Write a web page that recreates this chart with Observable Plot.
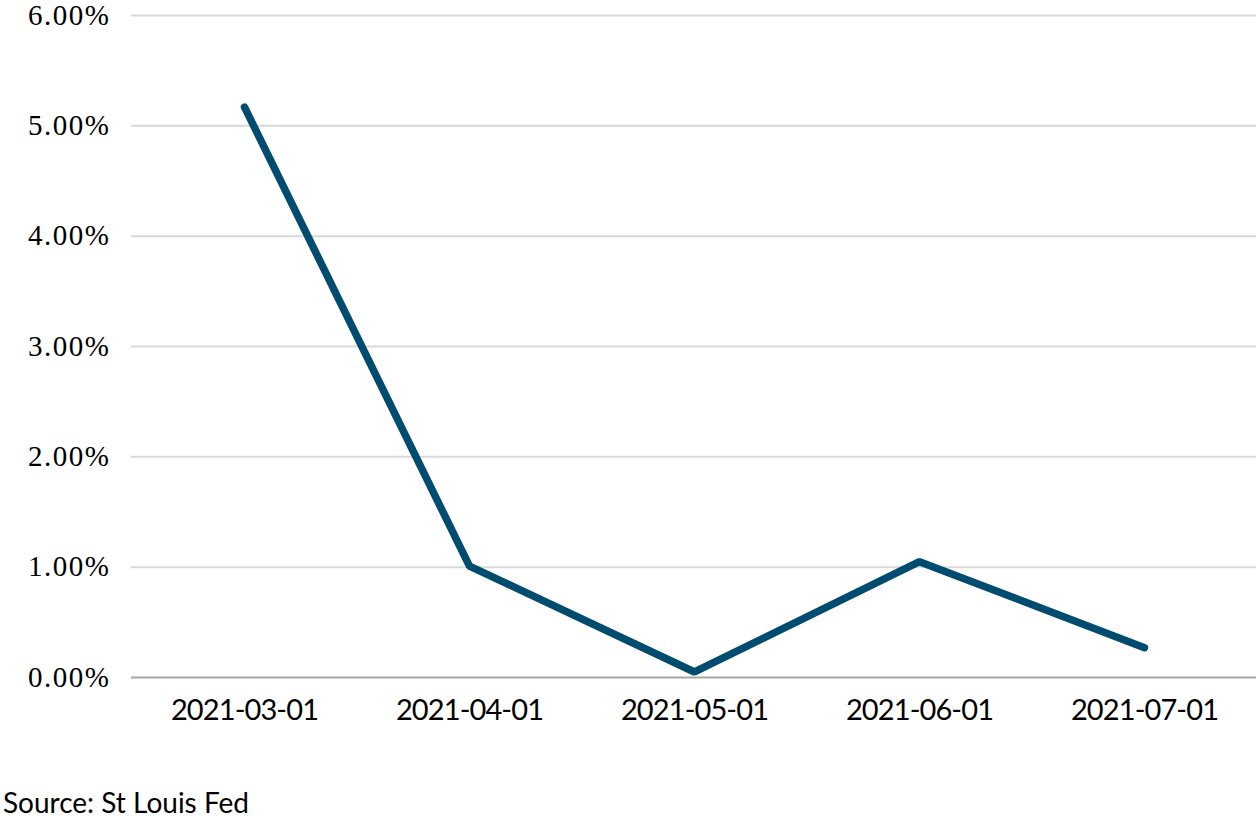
<!DOCTYPE html>
<html>
<head>
<meta charset="utf-8">
<script src="https://cdn.jsdelivr.net/npm/d3@7"></script>
<script src="https://cdn.jsdelivr.net/npm/@observablehq/plot@0.6"></script>
<style>
  body { margin: 0; background: #fff; }
  #chart { position: relative; width: 1259px; height: 819px; }
  #caption { position: absolute; left: 3px; top: 788px; font-family: "Lato", "Open Sans", sans-serif; font-size: 28px; color: #000; line-height: 1; }
  g[aria-label="y-axis tick label"] text { font-family: "Liberation Serif", serif; font-size: 29px; letter-spacing: 1.5px; }
  g[aria-label="x-axis tick label"] text { font-family: "Lato", "Open Sans", sans-serif; font-size: 29px; letter-spacing: -0.9px; }
</style>
</head>
<body>
<div id="chart"><div id="plot"></div><div id="caption">Source: St Louis Fed</div></div>
<script>
const dates = ["2021-03-01", "2021-04-01", "2021-05-01", "2021-06-01", "2021-07-01"];
const values = [5.17, 1.01, 0.05, 1.05, 0.27];
const yTicks = [0, 1, 2, 3, 4, 5, 6];

const data = dates.map((d, i) => ({date: d, value: values[i]}));

const chart = Plot.plot({
  width: 1259,
  height: 720,
  marginLeft: 131,
  marginRight: 3,
  marginTop: 15,
  marginBottom: 43,
  style: {background: "#fff", overflow: "visible"},
  x: {type: "point", domain: dates, padding: 0.5},
  y: {domain: [0, 6]},
  marks: [
    Plot.gridY(yTicks.filter(t => t > 0), {stroke: "#d9d9d9", strokeOpacity: 1, strokeWidth: 2}),
    Plot.ruleY([0], {stroke: "#a6a6a6", strokeWidth: 2}),
    Plot.axisY({ticks: yTicks, tickSize: 0, tickPadding: 21, tickFormat: d => d.toFixed(2) + "%", fill: "#000", label: null}),
    Plot.axisX({tickSize: 0, tickPadding: 22, fill: "#000", label: null}),
    Plot.line(data, {x: "date", y: "value", stroke: "#004c70", strokeWidth: 7.5, strokeLinecap: "round", strokeLinejoin: "miter"})
  ]
});
document.getElementById("plot").appendChild(chart);
</script>
</body>
</html>
